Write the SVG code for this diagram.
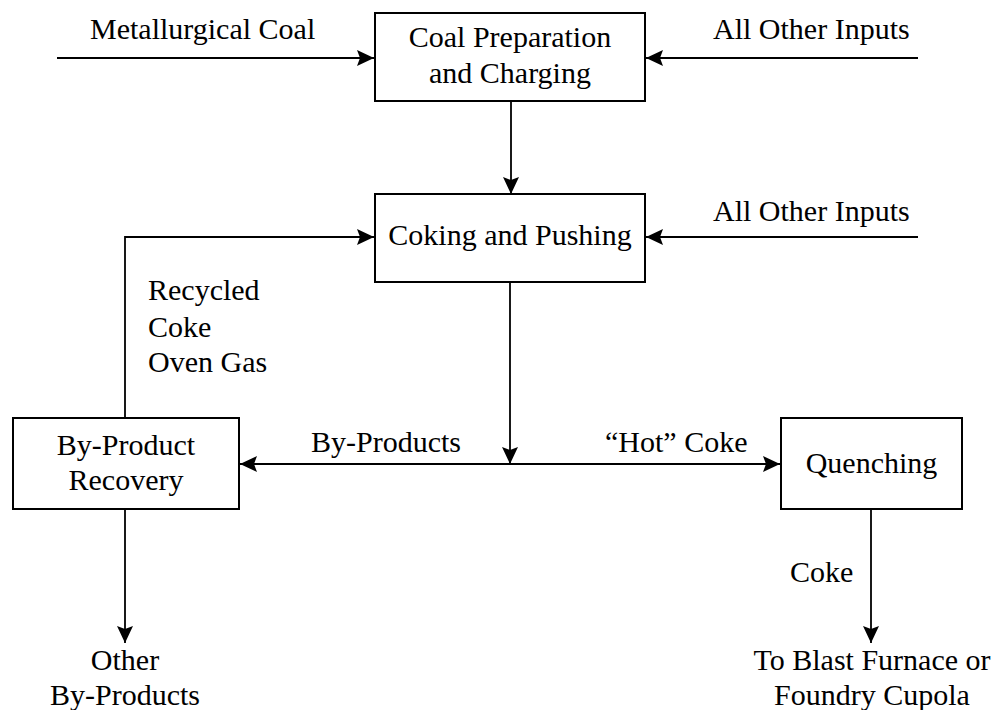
<svg xmlns="http://www.w3.org/2000/svg" width="995" height="710" viewBox="0 0 995 710">
<style>
.box{fill:#fff;stroke:#000;stroke-width:2}
.t{font-family:'Liberation Serif','Times New Roman',Times,'DejaVu Serif',serif;font-size:30px;fill:#000}
.m{text-anchor:middle}
.c{fill:none;stroke:#000;stroke-width:1.8}
</style>
<defs>
<marker id="ah" markerUnits="userSpaceOnUse" markerWidth="18" markerHeight="16" refX="17" refY="8" orient="auto-start-reverse" viewBox="0 0 18 16">
<path d="M0,0 L17,8 L0,16 L3,8 Z" fill="#000"/>
</marker>
</defs>
<rect width="995" height="710" fill="#fff"/>
<g id="connectors">
<path class="c" d="M57,58 H374" marker-end="url(#ah)"/>
<path class="c" d="M918,58 H646" marker-end="url(#ah)"/>
<path class="c" d="M511,101 V194" marker-end="url(#ah)"/>
<path class="c" d="M918,237 H646" marker-end="url(#ah)"/>
<path class="c" d="M125,418 V237 H374" marker-end="url(#ah)"/>
<path class="c" d="M510,282 V464" marker-end="url(#ah)"/>
<path class="c" d="M240,464 H780" marker-start="url(#ah)" marker-end="url(#ah)"/>
<path class="c" d="M125,509 V643" marker-end="url(#ah)"/>
<path class="c" d="M871,509 V643" marker-end="url(#ah)"/>
</g>
<g id="labels">
<text class="t" x="90" y="39" font-family="Liberation Serif, serif">Metallurgical Coal</text>
<text class="t" x="713" y="39">All Other Inputs</text>
<text class="t" x="713" y="221">All Other Inputs</text>
<text class="t" x="148" y="300">Recycled</text>
<text class="t" x="148" y="337">Coke</text>
<text class="t" x="148" y="372">Oven Gas</text>
<text class="t" x="311" y="452">By-Products</text>
<text class="t" x="605" y="452">“Hot” Coke</text>
<text class="t" x="790" y="582">Coke</text>
</g>
<g id="node-coal-prep">
<rect class="box" x="375" y="13" width="270" height="88"/>
<text class="t m" x="510" y="47">Coal Preparation</text>
<text class="t m" x="510" y="83">and Charging</text>
</g>
<g id="node-coking">
<rect class="box" x="375" y="194" width="270" height="88"/>
<text class="t m" x="510" y="245">Coking and Pushing</text>
</g>
<g id="node-byproduct">
<rect class="box" x="13" y="418" width="226" height="91"/>
<text class="t m" x="126" y="455">By-Product</text>
<text class="t m" x="126" y="490">Recovery</text>
</g>
<g id="node-quenching">
<rect class="box" x="781" y="418" width="181" height="91"/>
<text class="t m" x="871.5" y="473">Quenching</text>
</g>
<g id="node-other-byproducts">
<text class="t m" x="125" y="670">Other</text>
<text class="t m" x="125" y="705">By-Products</text>
</g>
<g id="node-blast-furnace">
<text class="t m" x="872" y="670">To Blast Furnace or</text>
<text class="t m" x="872" y="705">Foundry Cupola</text>
</g>
</svg>
